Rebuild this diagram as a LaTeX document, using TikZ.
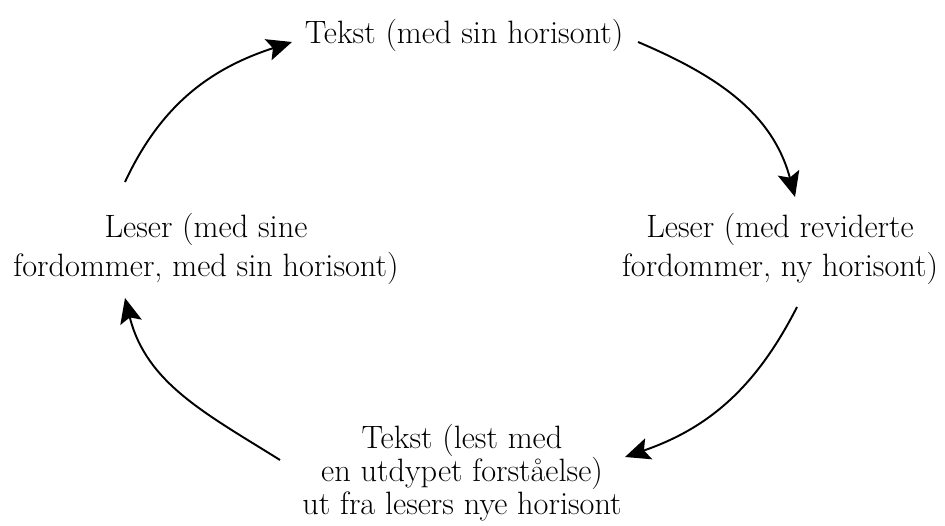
\documentclass[tikz,border=0pt]{standalone}
\usetikzlibrary{arrows.meta}
\tikzset{
  txt/.style = {inner sep = 0, align = center, font = \fontsize{18.4}{21.8}\selectfont},
  pil/.style = {line width = 1.1pt, -{Stealth[length = 0.5cm, width = 0.44cm, inset = 0.1cm]}}
}
\begin{document}
\begin{tikzpicture}[x = 0.02cm, y = 0.02cm]
\useasboundingbox (0,0) rectangle (945,526);
\node[txt] (tekst) at (464,491) {Tekst (med sin horisont)};
\node[txt] (leser) at (206,277) {Leser (med sine\\fordommer, med sin horisont)};
\node[txt] (revidert) at (780,277) {Leser (med reviderte\\fordommer, ny horisont)};
\node[txt, font = \fontsize{18.4}{18.8}\selectfont] (utdypet) at (462,53) {Tekst (lest med\\en utdypet forståelse)\\ut fra lesers nye horisont};
\coordinate (a1) at (125,344); \coordinate (b1) at (292,484);
\coordinate (a2) at (638,484); \coordinate (b2) at (795,329);
\coordinate (a3) at (797,219); \coordinate (b3) at (625,69);
\coordinate (a4) at (280,66);  \coordinate (b4) at (125,228);
\foreach \n/\o/\i in {1/65/198, 2/-23/105, 3/-117/19, 4/148/-76}
  \draw[pil] (a\n) to[out = \o, in = \i] (b\n);
\end{tikzpicture}
\end{document}
